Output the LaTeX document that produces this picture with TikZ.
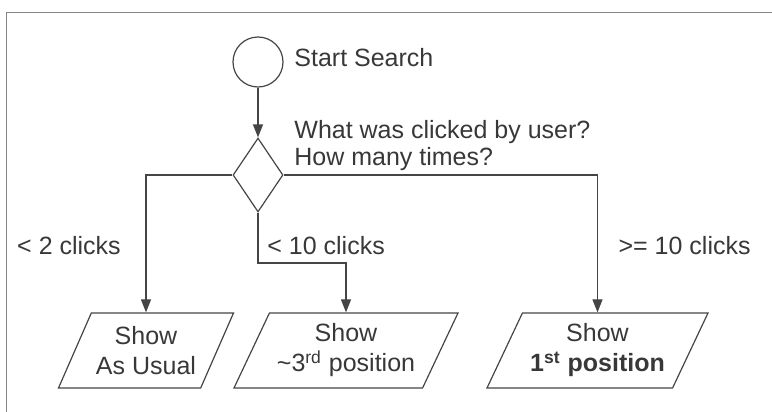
\documentclass[tikz,border=0pt]{standalone}
\usepackage{fontspec}
\setmainfont{Liberation Sans}
\usetikzlibrary{shapes.geometric,arrows.meta}
\definecolor{ink}{HTML}{383838}
\definecolor{edge}{HTML}{454545}
\definecolor{rim}{HTML}{858585}

\begin{document}
\begin{tikzpicture}[x=0.5pt,y=-0.5pt,
    font=\fontsize{12.5}{13.5}\selectfont, text=ink,
    flow/.style={draw=edge, line width=0.6pt},
    go/.style={flow, -{Triangle[length=6.5pt,width=5pt]}},
    note/.style={inner sep=0pt},
    output/.style={flow, trapezium, trapezium left angle=62, trapezium right angle=118,
      trapezium stretches body, minimum height=37.5pt, inner xsep=1pt,
      align=center, font=\fontsize{12.5}{15}\selectfont}]
  \useasboundingbox (0,0) rectangle (772,412);
  \clip (0,0) rectangle (772,412);
  \draw[rim, line width=0.5pt] (790,12) -- (6,12) -- (6,430);
  % start and question
  \node[flow, circle, minimum size=25pt, inner sep=0pt] (start) at (258,62) {};
  \node[note, anchor=base west] (startlbl) at (294,66) {Start Search};
  \node[flow, diamond, minimum width=25pt, minimum height=37pt, inner sep=0pt] (ask) at (258,175) {};
  \node[note, anchor=west, align=left] (asklbl) at (294,146) {What was clicked by user?\\How many times?};
  % the three outcomes
  \node[output, minimum width=87.5pt] (usual) at (146,350.5) {Show\\As Usual};
  \node[output, minimum width=112pt] (third) at (346,350.5) {Show\\\textasciitilde3\textsuperscript{rd} position};
  \node[output, minimum width=110.5pt] (first) at (597.5,350.5) {Show\\\textbf{1\textsuperscript{st} position}};
  % branch labels
  \node[note, anchor=base] (few) at (69,254) {< 2 clicks};
  \node[note, anchor=base west] (some) at (267,254) {< 10 clicks};
  \node[note, anchor=base east] (many) at (751,254) {>= 10 clicks};
  % connectors
  \coordinate (turn) at (258,263);
  \draw[go] (start) -- (ask);
  \draw[go] (ask.west) -| (usual.north);
  \draw[go] (ask.south) -- (turn) -| (third.north);
  \draw[go] (ask.east) -| (first.north);
\end{tikzpicture}
\end{document}
